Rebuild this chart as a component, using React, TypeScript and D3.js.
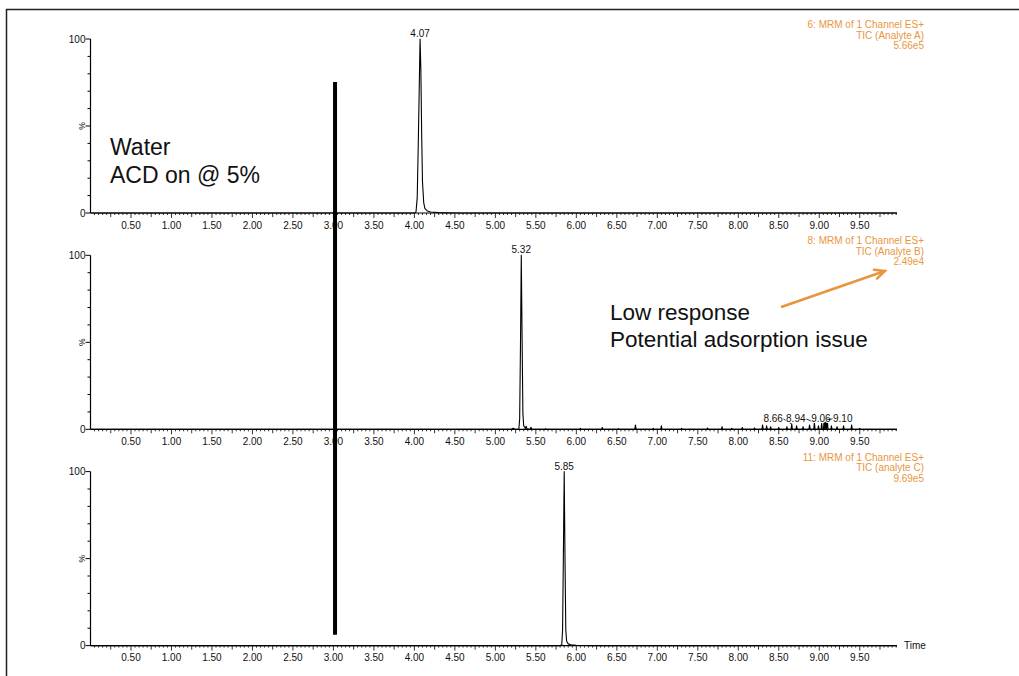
import React from "react";
import * as d3 from "d3";

// Chromatogram traces, [time (min), relative intensity %]
const traceA: [number, number][] = [
  [0, 0], [3.9, 0], [4.0, 0], [4.02, 0.6], [4.035, 9], [4.05, 45], [4.07, 100],
  [4.08, 82], [4.09, 45], [4.1, 18], [4.115, 6], [4.13, 2.5], [4.16, 1.2],
  [4.2, 0.6], [4.3, 0.2], [4.5, 0], [9.96, 0],
];

const traceBPeak: [number, number][] = [
  [5.2, 0], [5.22, 0.6], [5.24, 0], [5.29, 0], [5.3, 6], [5.31, 48], [5.32, 100],
  [5.33, 52], [5.34, 9], [5.35, 2], [5.37, 0.5], [5.38, 1.8], [5.39, 0.3],
  [5.43, 0], [5.44, 1.2], [5.45, 0],
];

// small noise spikes in trace B, [time, height %]
const noiseB: [number, number][] = [
  [5.62, 0.4], [6.05, 0.5], [6.32, 1], [6.52, 0.4], [6.73, 2.5], [6.95, 0.5],
  [7.05, 2], [7.3, 0.5], [7.62, 0.7], [7.8, 1.5], [7.92, 0.6], [8.05, 1],
  [8.2, 0.8], [8.3, 2.5], [8.35, 2], [8.4, 1.5], [8.5, 1], [8.6, 1.5],
  [8.66, 3], [8.72, 2], [8.8, 1.5], [8.88, 2.5], [8.94, 4], [8.99, 2],
  [9.03, 3.5], [9.06, 6], [9.08, 5], [9.1, 5.5], [9.15, 2], [9.22, 1.5],
  [9.3, 2], [9.4, 2.5], [9.5, 0.5],
];

const traceC: [number, number][] = [
  [0, 0], [5.8, 0], [5.82, 0.5], [5.83, 9], [5.84, 52], [5.85, 100], [5.86, 50],
  [5.87, 9], [5.88, 2.5], [5.9, 1], [5.93, 0.5], [6.0, 0.2], [6.2, 0], [9.96, 0],
];

const headers = [
  ["6: MRM of 1 Channel ES+", "TIC (Analyte A)", "5.66e5"],
  ["8: MRM of 1 Channel ES+", "TIC (Analyte B)", "2.49e4"],
  ["11: MRM of 1 Channel ES+", "TIC (analyte C)", "9.69e5"],
];

const apexLabels = [4.07, 5.32, 5.85];
// labelled noise peaks in trace B and where their labels sit (time units)
const noiseLabelPeaks = [8.66, 8.94, 9.06, 9.1];
const noiseLabelAt = [8.43, 8.71, 9.02, 9.29];

const markerTime = 3.02; // vertical bar
const TIME_MAX = 9.96;

const W = 1019;
const H = 676;
const FONT = "'Liberation Sans', Arial, sans-serif";
const ORANGE = "#E8963E";

const PANEL_TOP = 39;
const PANEL_STEP = 216.3;
const PANEL_H = 174;

function spikesToPath(spikes: [number, number][]): [number, number][] {
  const out: [number, number][] = [[0, 0]];
  spikes.forEach(([t, h]) => {
    out.push([t - 0.008, 0], [t, h], [t + 0.008, 0]);
  });
  out.push([TIME_MAX, 0]);
  return out;
}

export default function App() {
  const x = d3.scaleLinear().domain([0, TIME_MAX]).range([90.5, 897]);
  const yScales = [0, 1, 2].map((i) => {
    const top = PANEL_TOP + i * PANEL_STEP;
    return d3.scaleLinear().domain([0, 100]).range([top + PANEL_H, top]);
  });

  const traceB = [[0, 0] as [number, number], ...traceBPeak, ...spikesToPath(noiseB).slice(1)]
    .sort((a, b) => a[0] - b[0]);
  const traces = [traceA, traceB, traceC];

  const xTicks = d3.range(1, 200).map((i) => i * 0.05).filter((t) => t <= TIME_MAX + 1e-6);
  const yTicks = d3.range(0, 11).map((i) => i * 10);

  const noiseH = (t: number) => {
    const f = noiseB.find((d) => Math.abs(d[0] - t) < 1e-6);
    return f ? f[1] : 0;
  };

  return (
    <svg
      width={W}
      height={H}
      style={{ position: "absolute", left: 0, top: 0, background: "#fff" }}
      fontFamily={FONT}
    >
      <rect width={W} height={H} fill="#fff" />
      <path d={`M6.5,${H} V9.5 H${W}`} fill="none" stroke="#222" strokeWidth={1.5} />

      {traces.map((data, i) => {
        const y = yScales[i];
        const line = d3
          .line<[number, number]>()
          .x((d) => x(d[0]))
          .y((d) => y(d[1]));
        const y0 = y(0);
        return (
          <g key={i}>
            {/* y axis */}
            <line x1={x(0)} x2={x(0)} y1={y(100)} y2={y0} stroke="#000" strokeWidth={1.2} />
            {yTicks.map((v) => (
              <line
                key={v}
                x1={x(0) - (v % 50 === 0 ? 5 : 3)}
                x2={x(0)}
                y1={y(v)}
                y2={y(v)}
                stroke="#000"
              />
            ))}
            <text x={x(0) - 5} y={y(100) + 3.5} fontSize={10} textAnchor="end" fill="#111">
              100
            </text>
            <text x={x(0) - 5} y={y0 + 3.5} fontSize={10} textAnchor="end" fill="#111">
              0
            </text>
            <text
              transform={`translate(${x(0) - 6},${y(50)}) rotate(-90)`}
              fontSize={8.5}
              textAnchor="middle"
              fill="#111"
            >
              %
            </text>

            {/* x axis */}
            <line x1={x(0)} x2={x(TIME_MAX)} y1={y0} y2={y0} stroke="#000" strokeWidth={1.2} />
            {xTicks.map((t, k) => {
              const idx = k + 1;
              const len = idx % 10 === 0 ? 5 : idx % 5 === 0 ? 4 : 2;
              return (
                <line key={k} x1={x(t)} x2={x(t)} y1={y0} y2={y0 + len} stroke="#000" strokeWidth={0.8} />
              );
            })}
            {xTicks
              .filter((_, k) => (k + 1) % 10 === 0)
              .map((t) => (
                <text key={t} x={x(t)} y={y0 + 15.5} fontSize={10} textAnchor="middle" fill="#111">
                  {t.toFixed(2)}
                </text>
              ))}

            {/* trace */}
            <path d={line(data) || ""} fill="none" stroke="#000" strokeWidth={1.1} strokeLinejoin="round" />

            {/* apex label */}
            <text x={x(apexLabels[i])} y={y(100) - 2} fontSize={10} textAnchor="middle" fill="#111">
              {apexLabels[i].toFixed(2)}
            </text>

            {/* header */}
            {headers[i].map((s, j) => (
              <text
                key={j}
                x={924}
                y={y(100) - 11 + j * 10.5}
                fontSize={10}
                textAnchor="end"
                fill={ORANGE}
              >
                {s}
              </text>
            ))}
          </g>
        );
      })}

      {/* labelled noise peaks, trace B */}
      {noiseLabelPeaks.map((t, k) => {
        const y = yScales[1];
        const lx = x(noiseLabelAt[k]);
        const by = y(0) - 7.5;
        const px = x(t);
        const py = y(noiseH(t));
        const left = lx < px;
        const ex = left ? lx + 10 : lx - 10;
        return (
          <g key={t}>
            <line x1={ex} y1={by - 3} x2={px} y2={py} stroke="#000" strokeWidth={0.8} />
            <text x={lx} y={by} fontSize={10} textAnchor="middle" fill="#111" stroke="#fff" strokeWidth={2} paintOrder="stroke">
              {t.toFixed(2)}
            </text>
          </g>
        );
      })}

      <text x={x(TIME_MAX) + 7} y={yScales[2](0) + 3.5} fontSize={10} fill="#111">
        Time
      </text>

      {/* vertical marker bar */}
      <line
        x1={x(markerTime)}
        x2={x(markerTime)}
        y1={yScales[0](75.3)}
        y2={yScales[2](6.3)}
        stroke="#000"
        strokeWidth={4}
      />

      {/* annotations */}
      <text x={110} y={155} fontSize={23} fill="#111">
        Water
      </text>
      <text x={110} y={183} fontSize={23} fill="#111">
        ACD on @ 5%
      </text>
      <text x={610} y={320} fontSize={22.5} fill="#111">
        Low response
      </text>
      <text x={610} y={347} fontSize={22.5} fill="#111">
        Potential adsorption issue
      </text>

      {(() => {
        const y = yScales[1];
        const x1 = x(8.54), y1 = y(70.4);
        const x2 = x(9.81), y2 = y(91);
        const ang = Math.atan2(y2 - y1, x2 - x1);
        const hl = 11;
        const a1 = ang + Math.PI - 0.45;
        const a2 = ang + Math.PI + 0.45;
        return (
          <g stroke={ORANGE} strokeWidth={2.5} fill="none" strokeLinecap="round">
            <line x1={x1} y1={y1} x2={x2} y2={y2} />
            <path
              d={`M${x2 + hl * Math.cos(a1)},${y2 + hl * Math.sin(a1)} L${x2},${y2} L${x2 + hl * Math.cos(a2)},${y2 + hl * Math.sin(a2)}`}
            />
          </g>
        );
      })()}
    </svg>
  );
}
